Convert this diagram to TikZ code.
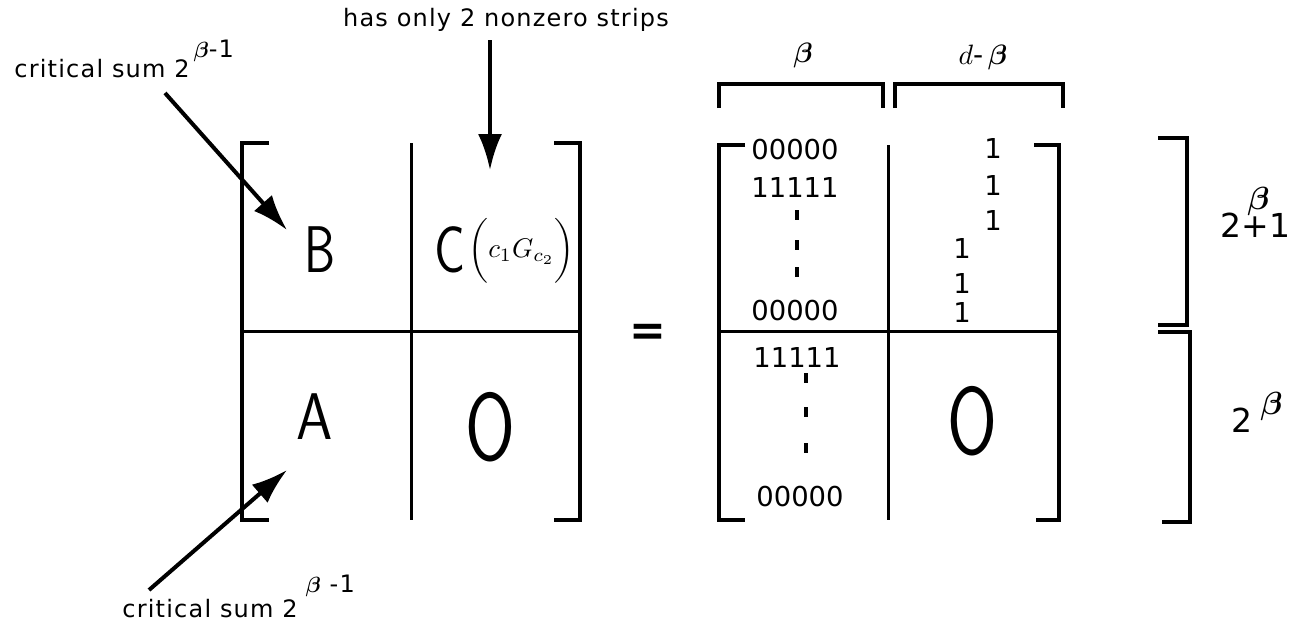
\documentclass[tikz,border=0pt]{standalone}
\usepackage{fontspec}
\setmainfont{DejaVu Sans}
\usepackage{amsmath}
\usetikzlibrary{arrows.meta,positioning}
% grosse Buchstaben in den Bloecken
\newcommand{\bigsym}[2][0.75]{\scalebox{#1}[1]{\fontsize{33}{33}\selectfont\sffamily #2}}
\newcommand{\zerosym}{\scalebox{0.75}[1]{\fontsize{48}{48}\selectfont\sffamily O}}
% vergroesserte Formeln
\newcommand{\mscale}[2]{{\normalsize\scalebox{#1}{$#2$}}}
\newcommand{\bb}{\boldsymbol{\beta}}

\begin{document}
\begin{tikzpicture}[x=0.5pt, y=-0.5pt,
				>={Latex[length=18pt,width=12pt]},   %Pfeilspitzen
				rule/.style={line width=1.5pt},
				brk/.style={line width=2pt},
				ptr/.style={->, line width=2pt},
				entry/.style={inner sep=0pt, font=\fontsize{13.7}{14}\selectfont},
				note/.style={inner sep=0pt, font=\fontsize{12}{14}\selectfont\addfontfeature{LetterSpace=5}},
				dotmark/.style={fill, minimum width=2.2pt, minimum height=5pt, inner sep=0pt}]
				\useasboundingbox (0,0) rectangle (1293,629);
				% linke Matrix
				\draw[brk] (269,143) -- (242,143) -- (242,520) -- (269,520);
				\draw[brk] (554,143) -- (580,143) -- (580,520) -- (554,520);
				\draw[rule] (411,143) -- (411,520);
				\draw[rule] (242,331) -- (580,331);
				\node[inner sep=0pt] (B) at (320,250) {\bigsym{B}};
				\node[inner sep=0pt] (C) at (450,250) {\bigsym[0.78]{C}};
				\node[inner sep=0pt, anchor=west] (Cgraph) at (468,251) {\mscale{1.35}{\biggl(c_1G_{c_2}\biggr)}};
				\node[inner sep=0pt] (A) at (315,417) {\bigsym[0.88]{A}};
				\node[inner sep=0pt] (Zl) at (490,427) {\zerosym};
				% Beschriftung links
				\node[note, anchor=base west] (critB) at (14,77) {critical sum 2\,\raisebox{10pt}{\mscale{1.1}{\bb}-1}};
				\node[note] (strips) at (506,20) {has only 2 nonzero strips};
				\node[note, anchor=base west] (critA) at (122,617) {critical sum 2\,\,\raisebox{12.5pt}{\mscale{1.1}{\bb} -1}};
				\coordinate (tipB) at (287,230);
				\coordinate (tailB) at (165,93);
				\coordinate (tipC) at (490,170);
				\coordinate (tailC) at (490,40);
				\coordinate (tipA) at (287,470);
				\coordinate (tailA) at (149,590);
				\draw[ptr] (tailB) -- (tipB);
				\draw[ptr] (tailC) -- (tipC);
				\draw[ptr] (tailA) -- (tipA);
				% Gleichheitszeichen
				\node[inner sep=0pt, font=\fontsize{22}{22}\selectfont\bfseries] (eq) at (648,335) {=};
				% rechte Matrix
				\draw[brk] (745,145) -- (719,145) -- (719,520) -- (745,520);
				\draw[brk] (1034,145) -- (1059,145) -- (1059,520) -- (1036,520);
				\draw[rule] (888,145) -- (888,520);
				\draw[rule] (719,331) -- (1059,331);
				\draw[brk] (719,108) -- (719,84) -- (883,84) -- (883,108);
				\draw[brk] (895,108) -- (895,84) -- (1063,84) -- (1063,108);
				\node (bw) at (803,55) {\mscale{1.4}{\bb}};
				\node (dbw) at (983,57) {\mscale{1.4}{d\text{-}\,\bb}};
				\node[entry] (r1) at (795,150) {00000};
				\node[entry] (r2) at (795,187) {11111};
				\foreach \y [count=\i] in {215,245,272} \node[dotmark] (du\i) at (797,\y) {};
				\node[entry] (r3) at (795,311) {00000};
				\node[entry] (r4) at (797,357) {11111};
				\foreach \y [count=\i] in {378,412,448} \node[dotmark] (dl\i) at (806,\y) {};
				\node[entry] (r5) at (800,497) {00000};
				\foreach \y [count=\i] in {148,185,220} \node[entry] (ea\i) at (993,\y) {1};
				\foreach \y [count=\i] in {248,283,312} \node[entry] (eb\i) at (962,\y) {1};
				\node[inner sep=0pt] (Zr) at (972,421) {\zerosym};
				% Klammern rechts
				\draw[brk] (1158,138) -- (1187,138) -- (1187,325) -- (1158,325);
				\draw[brk] (1158,332) -- (1190,332) -- (1190,522) -- (1162,522);
				\node[inner sep=0pt, anchor=base west, font=\fontsize{16.5}{17}\selectfont] (hup) at (1220,237) {2\rlap{\hspace{3pt}\raisebox{14pt}{\mscale{1.6}{\bb}}}+1};
				\node[inner sep=0pt, anchor=base west, font=\fontsize{16.5}{17}\selectfont] (hlo) at (1231,432) {2\hspace{4pt}\raisebox{9pt}{\mscale{1.6}{\bb}}};
			\end{tikzpicture}
\end{document}
